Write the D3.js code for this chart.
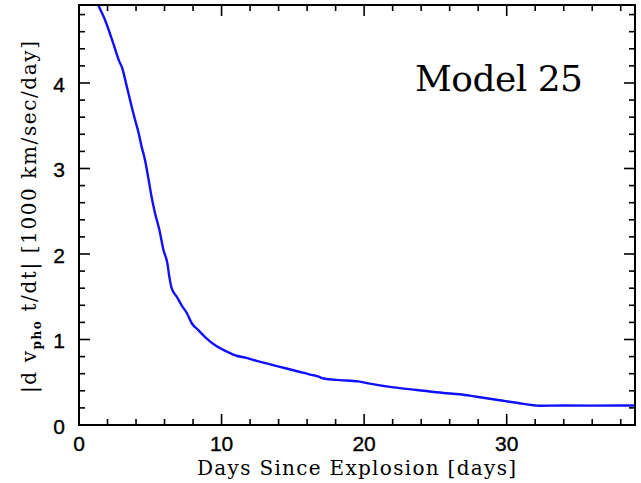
<!DOCTYPE html>
<html>
<head>
<meta charset="utf-8">
<script src="https://cdn.jsdelivr.net/npm/d3@7"></script>
<style>
  html, body { margin: 0; padding: 0; background: #fff; }
  svg { display: block; }
</style>
</head>
<body>
<svg id="chart" width="641" height="483"></svg>
<script>
// ---- data ----
const days = [1.0, 1.36, 1.82, 2.41, 2.83, 3.0, 3.35, 3.70, 3.93, 4.16, 4.40, 4.63, 4.86, 5.10,
  5.33, 5.64, 5.92, 6.20, 6.34, 6.50, 6.86, 7.20, 7.56, 7.91, 8.37, 8.96, 9.66, 10.35, 11.05,
  11.75, 12.46, 13.16, 14.10, 15.04, 15.50, 15.98, 16.20, 16.90, 17.0, 17.5, 18.3, 19.6, 20.2,
  22.06, 23.7, 25.56, 26.7, 27.9, 29.5, 30.7, 32.35, 34.0, 36.0, 38.0, 39.0];
const rates = [5.06, 4.91, 4.74, 4.46, 4.25, 4.19, 3.96, 3.72, 3.57, 3.43, 3.25, 3.10, 2.89, 2.66,
  2.48, 2.28, 2.05, 1.89, 1.73, 1.60, 1.50, 1.40, 1.31, 1.19, 1.11, 1.01, 0.92, 0.86, 0.81,
  0.785, 0.75, 0.72, 0.68, 0.64, 0.62, 0.60, 0.59, 0.56, 0.55, 0.535, 0.525, 0.51, 0.49,
  0.44, 0.41, 0.375, 0.36, 0.33, 0.29, 0.26, 0.226, 0.228, 0.227, 0.228, 0.228];
const xMajorTicks = [0, 10, 20, 30];
const yMajorTicks = [0, 1, 2, 3, 4];
const titleText = "Model 25";
const xLabelText = "Days Since Explosion [days]";

// ---- layout ----
const L = 79, R = 635, T = 5, B = 425;
const svg = d3.select("#chart");
const x = d3.scaleLinear().domain([0, 39]).range([L, R]);
const y = d3.scaleLinear().domain([0, 4.912]).range([B, T]);

const xMinor = d3.range(0, 39.01, 2).filter(v => v % 10 !== 0);
const yMinor = d3.range(0, 4.9, 0.2).map(v => +v.toFixed(1)).filter(v => Math.abs(v - Math.round(v)) > 1e-6);

const MAJ = 11, MIN = 6;
const tickLayer = svg.append("g").attr("stroke", "#000").attr("stroke-width", 1.6);
[[xMajorTicks.filter(v=>v>0), MAJ], [xMinor, MIN]].forEach(([vals, len]) => {
  vals.forEach(v => {
    tickLayer.append("line").attr("x1", x(v)).attr("x2", x(v)).attr("y1", B).attr("y2", B - len);
    tickLayer.append("line").attr("x1", x(v)).attr("x2", x(v)).attr("y1", T).attr("y2", T + len);
  });
});
[[yMajorTicks.filter(v=>v>0), MAJ], [yMinor, MIN]].forEach(([vals, len]) => {
  vals.forEach(v => {
    tickLayer.append("line").attr("y1", y(v)).attr("y2", y(v)).attr("x1", L).attr("x2", L + len);
    tickLayer.append("line").attr("y1", y(v)).attr("y2", y(v)).attr("x1", R).attr("x2", R - len);
  });
});

// clip + curve
svg.append("clipPath").attr("id", "clip").append("rect")
  .attr("x", L).attr("y", T).attr("width", R - L).attr("height", B - T);
const line = d3.line().x((d, i) => x(days[i])).y((d, i) => y(rates[i])).curve(d3.curveMonotoneX);
svg.append("path").attr("clip-path", "url(#clip)")
  .attr("d", line(days))
  .attr("fill", "none").attr("stroke", "#1010ff").attr("stroke-width", 2.4)
  .attr("stroke-linejoin", "round");

// frame
svg.append("rect").attr("x", L).attr("y", T).attr("width", R - L).attr("height", B - T)
  .attr("fill", "none").attr("stroke", "#000").attr("stroke-width", 2);

// tick labels
const numFont = "'Liberation Sans', Arial, sans-serif";
svg.append("g").selectAll("text").data(xMajorTicks).join("text")
  .attr("x", d => x(d)).attr("y", 451).attr("text-anchor", "middle")
  .attr("font-family", numFont).attr("font-size", 21).attr("fill", "#000")
  .attr("stroke", "#000").attr("stroke-width", 0.35)
  .text(d => d);
svg.append("g").selectAll("text").data(yMajorTicks).join("text")
  .attr("x", 65).attr("y", d => y(d) + 9).attr("text-anchor", "end")
  .attr("font-family", numFont).attr("font-size", 21).attr("fill", "#000")
  .attr("stroke", "#000").attr("stroke-width", 0.35)
  .text(d => d);

// labels
const serif = "'DejaVu Serif', 'Liberation Serif', serif";
svg.append("text").attr("x", 197).attr("y", 475)
  .attr("font-family", serif).attr("font-size", 20).attr("fill", "#000")
  .attr("textLength", 319).attr("lengthAdjust", "spacing")
  .text(xLabelText);

svg.append("text").attr("x", 415).attr("y", 91)
  .attr("font-family", serif).attr("font-size", 36).attr("fill", "#000")
  .attr("textLength", 168).attr("lengthAdjust", "spacing")
  .text(titleText);

const yl = svg.append("text")
  .attr("transform", "translate(36,393) rotate(-90)")
  .attr("font-family", serif).attr("font-size", 20).attr("fill", "#000")
  .attr("textLength", 352).attr("lengthAdjust", "spacing");
yl.append("tspan").text("|d v");
yl.append("tspan").attr("font-size", 12).attr("dy", 5).attr("font-weight", "bold").text("pho");
yl.append("tspan").attr("dy", -5).text(" t/dt| [1000 km/sec/day]");
</script>
</body>
</html>
